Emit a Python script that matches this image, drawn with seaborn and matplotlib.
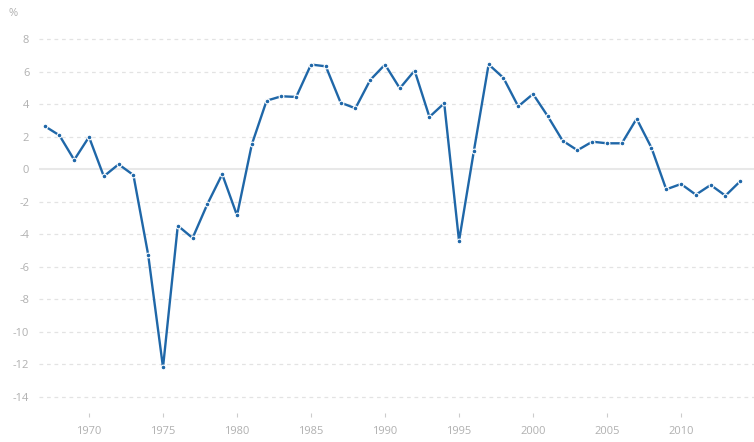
import matplotlib
matplotlib.use('Agg')
import matplotlib.pyplot as plt
import numpy as np
import pandas as pd
import seaborn as sns

# annual values
years = list(range(1967, 2015))
values = [2.65, 2.08, 0.57, 1.98, -0.44, 0.30, -0.36, -5.27, -12.18, -3.47,
          -4.23, -2.14, -0.31, -2.84, 1.52, 4.21, 4.48, 4.44, 6.43, 6.32,
          4.09, 3.74, 5.48, 6.43, 4.97, 6.06, 3.21, 4.05, -4.41, 1.10,
          6.44, 5.61, 3.86, 4.62, 3.25, 1.75, 1.16, 1.69, 1.59, 1.59,
          3.10, 1.32, -1.24, -0.91, -1.57, -0.97, -1.63, -0.74]
y_ticks = list(range(-14, 10, 2))
x_ticks = list(range(1970, 2015, 5))

df = pd.DataFrame({'year': years, 'value': values})

sns.set_style('white')
plt.rcParams['font.family'] = ['Open Sans', 'DejaVu Sans']
plt.rcParams['axes.unicode_minus'] = False

fig = plt.figure(figsize=(7.54, 4.42), dpi=100)
ax = fig.add_axes([0.0517, 0.065, 0.9483, 0.902])

line_color = '#1f67a8'
text_color = '#b0b0b0'

# gridlines
for t in y_ticks:
    if t == 0:
        ax.axhline(0, color='#e8e8e8', lw=1.5, zorder=0)
    else:
        ax.axhline(t, color='#e3e3e3', lw=0.9, ls=(0, (3, 3)), zorder=0)

sns.lineplot(data=df, x='year', y='value', ax=ax, color=line_color, lw=1.7,
             marker='o', markersize=3.4, markeredgecolor='white',
             markeredgewidth=0.8, zorder=3)

ax.set_xlim(1966.62, 2014.93)
ax.set_ylim(-15, 9.5)
ax.set_yticks(y_ticks)
ax.set_xticks(x_ticks)
ax.set_xlabel('')
ax.set_ylabel('')

for s in ax.spines.values():
    s.set_visible(False)

ax.tick_params(axis='y', length=0, pad=7, labelsize=8, labelcolor=text_color)
ax.tick_params(axis='x', length=3, width=0.8, color='#cccccc', pad=6,
               labelsize=8, labelcolor=text_color, bottom=True)

fig.text(0.011, 0.982, '%', fontsize=8, color=text_color, va='top', ha='left')

plt.savefig('out.png', dpi=100)
